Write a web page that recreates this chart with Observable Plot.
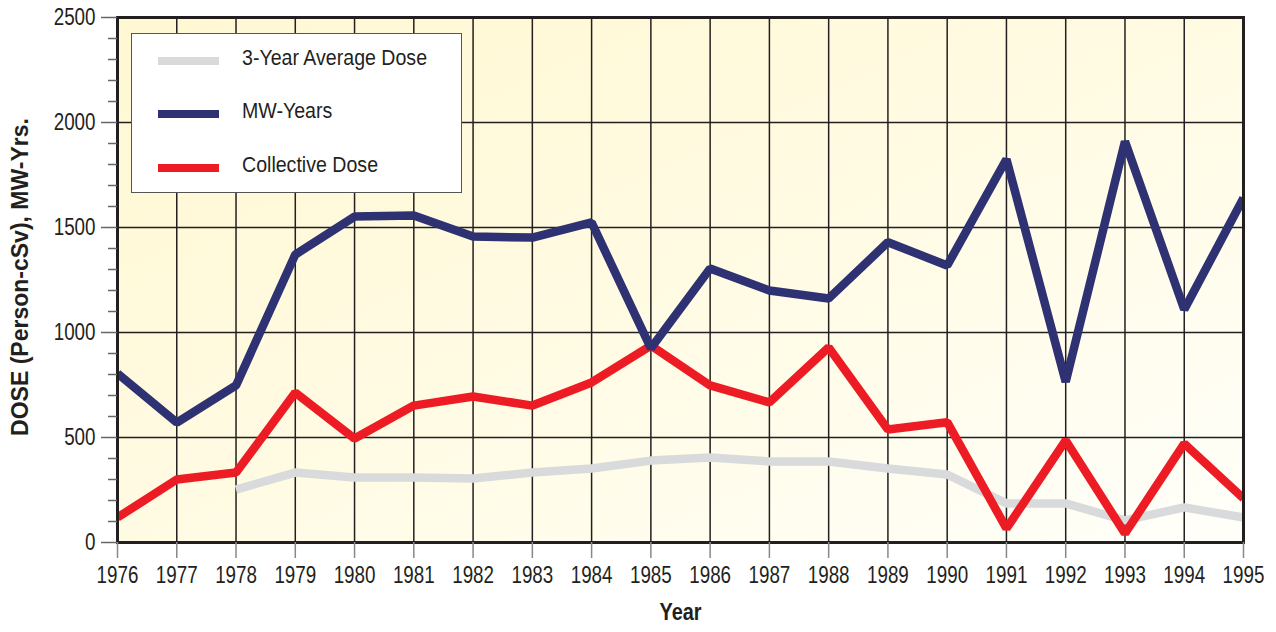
<!DOCTYPE html>
<html>
<head>
<meta charset="utf-8">
<script src="https://cdn.jsdelivr.net/npm/d3@7"></script>
<script src="https://cdn.jsdelivr.net/npm/@observablehq/plot@0.6"></script>
<style>
  html, body { margin: 0; padding: 0; background: #fff; }
  #wrap { position: relative; width: 1276px; height: 632px; font-family: "Liberation Sans", Arial, sans-serif; }
  #legend { position: absolute; left: 131px; top: 33px; width: 329px; height: 158px; background: #fff; border: 1.5px solid #555; }
  .item { position: absolute; left: 0; height: 30px; width: 100%; }
  .sw { position: absolute; left: 26px; width: 61px; height: 8px; top: 11px; }
  .lab { position: absolute; left: 110px; top: -3px; font-size: 22px; line-height: 30px; color: #231f20; white-space: nowrap; transform: scaleX(0.89); transform-origin: left center; }
</style>
</head>
<body>
<div id="wrap"></div>
<script>
const years = [1976, 1977, 1978, 1979, 1980, 1981, 1982, 1983, 1984, 1985, 1986, 1987, 1988, 1989, 1990, 1991, 1992, 1993, 1994, 1995];
const mwYears = [805, 571, 748, 1371, 1552, 1557, 1457, 1452, 1524, 925, 1305, 1200, 1162, 1430, 1319, 1825, 765, 1910, 1110, 1640];
const collectiveDose = [119, 300, 333, 714, 495, 652, 695, 652, 762, 938, 748, 667, 929, 538, 573, 67, 486, 43, 471, 210];
const avgYears = [1978, 1979, 1980, 1981, 1982, 1983, 1984, 1985, 1986, 1987, 1988, 1989, 1990, 1991, 1992, 1993, 1994, 1995];
const avgDose = [252, 333, 310, 310, 305, 333, 352, 390, 405, 386, 386, 352, 324, 186, 186, 105, 167, 119];
const yMajor = [0, 500, 1000, 1500, 2000, 2500];
const yGrid = [500, 1000, 1500, 2000];
const yMinor = [100, 200, 300, 400, 600, 700, 800, 900, 1100, 1200, 1300, 1400, 1600, 1700, 1800, 1900, 2100, 2200, 2300, 2400];
const seriesNames = ["3-Year Average Dose", "MW-Years", "Collective Dose"];
const seriesColors = ["#d9dadc", "#2e3172", "#ed1c24"];
const xTitle = "Year";
const yTitle = "DOSE (Person-cSv), MW-Yrs.";

const mw = years.map((y, i) => ({year: y, value: mwYears[i]}));
const cd = years.map((y, i) => ({year: y, value: collectiveDose[i]}));
const av = avgYears.map((y, i) => ({year: y, value: avgDose[i]}));

const defs = () => {
  const g = d3.create("svg:defs");
  const lg = g.append("linearGradient").attr("id", "bgGrad")
    .attr("x1", 0).attr("y1", 0).attr("x2", 1).attr("y2", 1);
  lg.append("stop").attr("offset", "0%").attr("stop-color", "#fff8d2");
  lg.append("stop").attr("offset", "50%").attr("stop-color", "#fffbe3");
  lg.append("stop").attr("offset", "100%").attr("stop-color", "#fffffa");
  return g.node();
};

const lineOpts = {x: "year", y: "value", strokeWidth: 8.5, strokeLinejoin: "miter", strokeLinecap: "butt", clip: true};

const chart = Plot.plot({
  width: 1276,
  height: 632,
  marginLeft: 117,
  marginRight: 33,
  marginTop: 17,
  marginBottom: 90,
  style: {fontFamily: '"Liberation Sans", Arial, sans-serif', background: "transparent"},
  x: {domain: [1976, 1995]},
  y: {domain: [0, 2500]},
  marks: [
    defs,
    Plot.frame({fill: "url(#bgGrad)", stroke: "none"}),
    Plot.ruleX(years, {stroke: "#231f20", strokeWidth: 1.5}),
    Plot.ruleY(yGrid, {stroke: "#231f20", strokeWidth: 1.5}),
    Plot.line(av, {...lineOpts, stroke: seriesColors[0]}),
    Plot.line(cd, {...lineOpts, stroke: seriesColors[2]}),
    Plot.line(mw, {...lineOpts, stroke: seriesColors[1]}),
    Plot.frame({stroke: "#231f20", strokeWidth: 3}),
    Plot.axisY(yMajor, {tickSize: 16, tickPadding: 6, fontSize: 23.5, stroke: "#666", strokeWidth: 1.5, fill: "#231f20", label: null, tickFormat: d => String(d)}),
    Plot.axisY(yMinor, {tickSize: 9, stroke: "#666", strokeWidth: 1.5, text: null, label: null}),
    Plot.axisX(years, {tickSize: 16, tickPadding: 8, fontSize: 23.5, stroke: "#888", strokeWidth: 1.5, fill: "#231f20", label: null, tickFormat: d => String(d)}),
    Plot.text([xTitle], {frameAnchor: "bottom", textAnchor: "middle", dy: 77, fontSize: 24, fontWeight: "bold", fill: "#231f20"}),
    Plot.text([yTitle], {frameAnchor: "left", textAnchor: "middle", dx: -97, dy: -3, rotate: -90, fontSize: 23, fontWeight: "bold", fill: "#231f20"})
  ]
});

// condense text horizontally (reference uses a condensed face)
d3.select(chart).selectAll("text").each(function() {
  const t = this.textContent;
  if (t === yTitle) return;
  const s = t === xTitle ? 0.83 : 0.8;
  const tr = this.getAttribute("transform");
  if (tr) {
    this.setAttribute("transform", tr + ` scale(${s},1)`);
  } else {
    const x = +(this.getAttribute("x") || 0), y = +(this.getAttribute("y") || 0);
    this.removeAttribute("x"); this.removeAttribute("y");
    this.setAttribute("transform", `translate(${x},${y}) scale(${s},1)`);
  }
});

const wrap = document.getElementById("wrap");
wrap.appendChild(chart);

const legend = document.createElement("div");
legend.id = "legend";
const rowTops = [12, 65, 119];
seriesNames.forEach((name, i) => {
  const item = document.createElement("div");
  item.className = "item";
  item.style.top = rowTops[i] + "px";
  const sw = document.createElement("div");
  sw.className = "sw";
  sw.style.background = seriesColors[i];
  const lab = document.createElement("div");
  lab.className = "lab";
  lab.textContent = name;
  item.appendChild(sw);
  item.appendChild(lab);
  legend.appendChild(item);
});
wrap.appendChild(legend);
</script>
</body>
</html>
